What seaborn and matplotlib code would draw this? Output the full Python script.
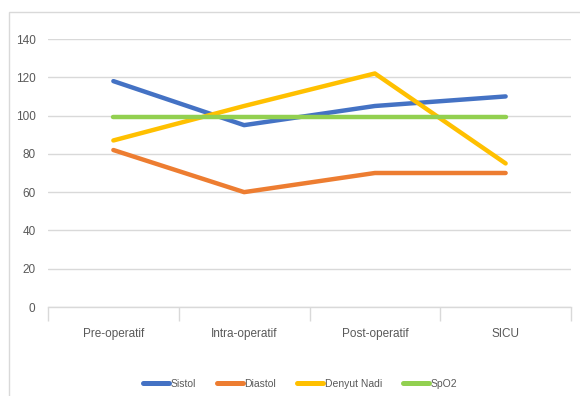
import matplotlib
matplotlib.use("Agg")
import matplotlib.pyplot as plt
from matplotlib import font_manager
import seaborn as sns
import pandas as pd
from matplotlib.patches import Rectangle
from matplotlib.ticker import FixedLocator

phases = ["Pre-operatif", "Intra-operatif", "Post-operatif", "SICU"]
sistol = [118, 95, 105, 110]
diastol = [82, 60, 70, 70]
denyut_nadi = [87, 105, 122, 75]
spo2 = [99, 99, 99, 99]
series_names = ["Sistol", "Diastol", "Denyut Nadi", "SpO2"]
y_ticks = [0, 20, 40, 60, 80, 100, 120, 140]

palette = {"Sistol": "#4472C4", "Diastol": "#ED7D31",
           "Denyut Nadi": "#FFC000", "SpO2": "#92D050"}

rows = []
for name, vals in zip(series_names, [sistol, diastol, denyut_nadi, spo2]):
    for p, v in zip(phases, vals):
        rows.append({"Fase": p, "Nilai": v, "Seri": name})
df = pd.DataFrame(rows)

sns.set_theme(style="white")
available = {f.name for f in font_manager.fontManager.ttflist}
narrow = "Liberation Sans Narrow" in available
plt.rcParams["font.family"] = (["Liberation Sans Narrow"] if narrow else ["Liberation Sans"]) + ["DejaVu Sans"]
fs = 10.5 if narrow else 8.5
fs_leg = 9 if narrow else 7.5

W, H = 580, 396
fig = plt.figure(figsize=(W / 100, H / 100), dpi=100)
fig.patches.append(Rectangle((9 / W, -0.1), 1.2, 1.1 - 12 / H, transform=fig.transFigure,
                             fill=False, edgecolor="#D9D9D9", linewidth=1.0))
ax = fig.add_axes([48 / W, 1 - 307 / H, (571 - 48) / W, (307 - 39) / H])

sns.lineplot(data=df, x="Fase", y="Nilai", hue="Seri", palette=palette,
             hue_order=series_names, linewidth=3.2, ax=ax, legend=True,
             sort=False)

ax.set_xlim(-0.5, 3.5)
ax.set_ylim(0, 140)
ax.set_yticks(y_ticks)
ax.yaxis.grid(True, color="#D9D9D9", linewidth=1.0)
ax.set_axisbelow(True)
for s in ["left", "top", "right"]:
    ax.spines[s].set_visible(False)
ax.spines["bottom"].set_color("#D9D9D9")
ax.spines["bottom"].set_linewidth(1.0)

ax.set_xticks(range(len(phases)))
ax.set_xticklabels(phases)
ax.xaxis.set_minor_locator(FixedLocator([-0.5, 0.5, 1.5, 2.5, 3.5]))
ax.tick_params(axis="x", which="major", bottom=False, length=0, pad=15,
               labelsize=fs, labelcolor="#595959")
ax.tick_params(axis="x", which="minor", bottom=True, length=10,
               color="#D9D9D9", width=1.0, direction="out")
ax.tick_params(axis="y", length=0, pad=9, labelsize=fs, labelcolor="#595959")
ax.set_xlabel("")
ax.set_ylabel("")

handles, labels = ax.get_legend_handles_labels()
for h in handles:
    h.set_linewidth(3.6)
ax.legend(handles, labels, loc="center", bbox_to_anchor=(300 / W, 1 - 384 / H),
          bbox_transform=fig.transFigure, ncol=4, frameon=False,
          fontsize=fs_leg, labelcolor="#595959", handlelength=2.5,
          handletextpad=0.15, columnspacing=2.0)

fig.savefig("out.png", dpi=100)
